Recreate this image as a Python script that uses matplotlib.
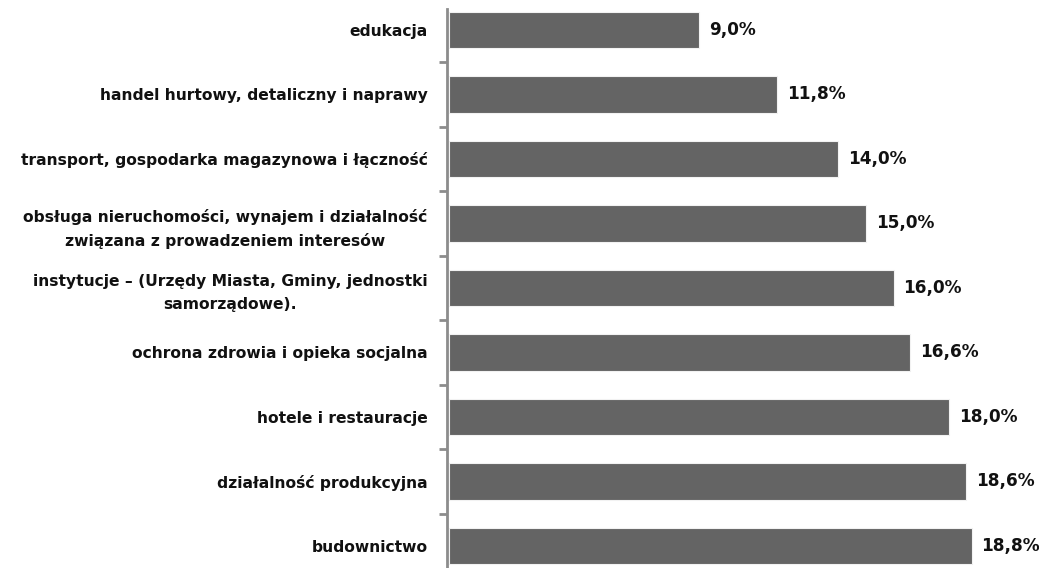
import matplotlib
matplotlib.use("Agg")
import matplotlib.pyplot as plt
import numpy as np

categories = [
    "edukacja",
    "handel hurtowy, detaliczny i naprawy",
    "transport, gospodarka magazynowa i łączność",
    "obsługa nieruchomości, wynajem i działalność\nzwiązana z prowadzeniem interesów",
    "instytucje – (Urzędy Miasta, Gminy, jednostki\nsamorządowe).",
    "ochrona zdrowia i opieka socjalna",
    "hotele i restauracje",
    "działalność produkcyjna",
    "budownictwo",
]
values = [9.0, 11.8, 14.0, 15.0, 16.0, 16.6, 18.0, 18.6, 18.8]
value_labels = ["9,0%", "11,8%", "14,0%", "15,0%", "16,0%", "16,6%", "18,0%", "18,6%", "18,8%"]

W, H = 1039, 568
fig = plt.figure(figsize=(W / 100, H / 100), dpi=100)
pitch = 64.5
ax_left = 447 / W
ax_right_px = 447 + 21 * 27.8
ax_top_px = -2.3
ax_h_px = 9 * pitch
ax = fig.add_axes([ax_left, (H - ax_top_px - ax_h_px) / H, (ax_right_px - 447) / W, ax_h_px / H])

y = np.arange(len(categories))
ax.barh(y, values, height=0.56, color="#646464", edgecolor="#f2f2f2", linewidth=0.8, left=0.07)
ax.set_ylim(len(categories) - 0.5, -0.5)
ax.set_xlim(0, 21)

for yi, v, lab in zip(y, values, value_labels):
    ax.text(v + 0.07 + 0.35, yi, lab, va="center", ha="left", fontsize=12.2,
            fontweight="bold", color="#111111")

ax.set_yticks(y)
ax.set_yticklabels(categories, fontsize=11.2, fontweight="bold", color="#111111",
                   multialignment="center", linespacing=1.65)
ax.tick_params(axis="y", which="major", length=0, pad=14)
ax.set_yticks(np.arange(0.5, len(categories) - 0.5, 1.0), minor=True)
ax.tick_params(axis="y", which="minor", length=6, width=2, color="#8c8c8c")

ax.set_xticks([])
for s in ["top", "right", "bottom"]:
    ax.spines[s].set_visible(False)
ax.spines["left"].set_color("#8c8c8c")
ax.spines["left"].set_linewidth(2)
ax.spines["left"].set_bounds(-0.32, len(categories) - 0.5)

fig.savefig("out.png", dpi=100)
